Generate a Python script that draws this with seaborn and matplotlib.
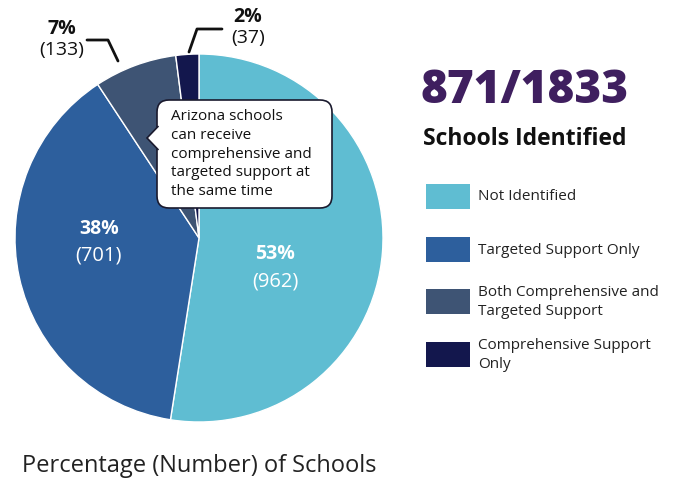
import matplotlib
matplotlib.use("Agg")
import matplotlib.pyplot as plt
import seaborn as sns
from matplotlib.patches import FancyBboxPatch, Polygon

# data
categories = ["Not Identified", "Targeted Support Only",
              "Both Comprehensive and\nTargeted Support",
              "Comprehensive Support\nOnly"]
counts = [962, 701, 133, 37]
pct_labels = ["53%", "38%", "7%", "2%"]
identified = 871
total_schools = 1833

colors = ["#5fbdd2", "#2d5f9d", "#3e5474", "#13174d"]

W, H = 680, 479

sns.set_style("white")
plt.rcParams['font.family'] = ['Open Sans', 'DejaVu Sans']

fig = plt.figure(figsize=(W / 100, H / 100), dpi=100)

# pie axes, placed by pixel box (center 199,238 radius 184)
cx, cy, r = 199, 238, 184
ax = fig.add_axes([(cx - r) / W, (H - cy - r) / H, 2 * r / W, 2 * r / H])
wedges, _ = ax.pie(counts, colors=sns.color_palette(colors), startangle=90,
                   counterclock=False, radius=1,
                   wedgeprops=dict(edgecolor="white", linewidth=1))
ax.set_xlim(-1, 1)
ax.set_ylim(-1, 1)
ax.set_aspect("equal")
ax.axis("off")

# overlay in pixel coords for all the annotations
ov = fig.add_axes([0, 0, 1, 1])
ov.set_xlim(0, W)
ov.set_ylim(H, 0)
ov.axis("off")
ov.patch.set_alpha(0)

# labels inside the two big slices
ov.text(275, 254, pct_labels[0], color="white", fontsize=14, fontweight="bold",
        ha="center", va="center")
ov.text(275, 281, f"({counts[0]})", color="white", fontsize=14.5,
        ha="center", va="center")
ov.text(99, 229, pct_labels[1], color="white", fontsize=14, fontweight="bold",
        ha="center", va="center")
ov.text(99, 255, f"({counts[1]})", color="white", fontsize=14.5,
        ha="center", va="center")

# outside labels with leader lines
ov.text(62, 29, pct_labels[2], color="#111111", fontsize=14, fontweight="bold",
        ha="center", va="center")
ov.text(62, 50, f"({counts[2]})", color="#111111", fontsize=14,
        ha="center", va="center")
ov.plot([87, 108, 118], [40, 40, 61], color="#111111", lw=2)

ov.text(248, 17, pct_labels[3], color="#111111", fontsize=14, fontweight="bold",
        ha="center", va="center")
ov.text(248, 38, f"({counts[3]})", color="#111111", fontsize=14,
        ha="center", va="center")
ov.plot([189, 197, 222], [52, 29, 29], color="#111111", lw=2)

# callout box
box = FancyBboxPatch((157, 100), 175, 108,
                     boxstyle="round,pad=0,rounding_size=12",
                     facecolor="white", edgecolor="#1a1a2e", lw=1.2, zorder=3)
ov.add_patch(box)
tip = Polygon([(158.5, 126), (147, 138), (158.5, 150)], closed=False,
              facecolor="white", edgecolor="#1a1a2e", lw=1.2, zorder=4)
ov.add_patch(tip)
ov.text(171, 154, "Arizona schools\ncan receive\ncomprehensive and\ntargeted support at\nthe same time",
        fontsize=11, color="#111111", ha="left", va="center",
        linespacing=1.36, zorder=5)

# headline
ov.text(421, 91, f"{identified}/{total_schools}", color="#3f1f5f",
        fontsize=33, fontweight="heavy", ha="left", va="center")
ov.text(423, 139, "Schools Identified", color="#111111", fontsize=16.5,
        fontweight="bold", ha="left", va="center")

# legend
leg_y = [196, 249, 301, 354]
for lab, col, yy in zip(categories, colors, leg_y):
    ov.add_patch(plt.Rectangle((426, yy - 12.5), 44, 25, facecolor=col,
                               edgecolor="none"))
    ov.text(478, yy + 1, lab, fontsize=11, color="#222222", ha="left",
            va="center", linespacing=1.38)

ov.text(22, 466, "Percentage (Number) of Schools", fontsize=17,
        color="#222222", ha="left", va="center")

fig.savefig("out.png", dpi=100, facecolor="white")
